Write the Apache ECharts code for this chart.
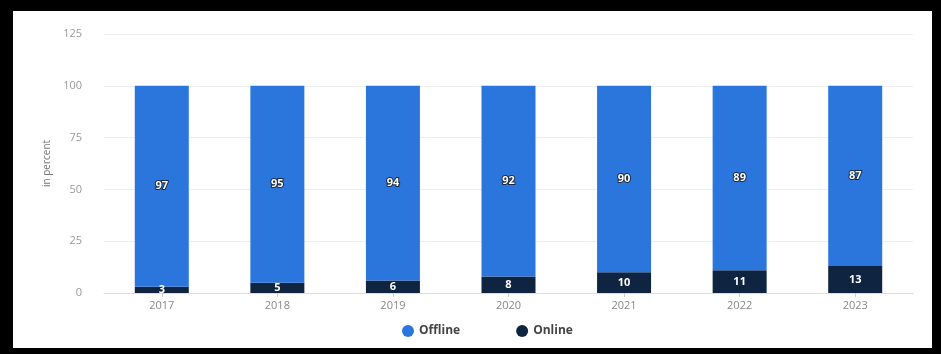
<!DOCTYPE html>
<html>
<head>
<meta charset="utf-8">
<script src="https://cdn.jsdelivr.net/npm/echarts@6/dist/echarts.min.js"></script>
<style>
html,body{margin:0;padding:0;background:#000;width:941px;height:354px;overflow:hidden;}
#frame{position:absolute;left:13px;top:11px;width:919px;height:337px;background:#fff;}
#chart{width:919px;height:337px;}
</style>
</head>
<body>
<div id="frame"><div id="chart"></div></div>
<script>
var categories = ['2017','2018','2019','2020','2021','2022','2023'];
var offline = [97, 95, 94, 92, 90, 89, 87];
var online = [3, 5, 6, 8, 10, 11, 13];
var yTicks = [0, 25, 50, 75, 100, 125];

var chart = echarts.init(document.getElementById('chart'));
chart.setOption({
  animation: false,
  grid: {left: 91, right: 19, top: 23, bottom: 55},
  legend: {
    bottom: 6, left: 384, itemWidth: 12, itemHeight: 12, itemGap: 56,
    icon: 'circle',
    textStyle: {fontFamily: 'Open Sans', fontWeight: 'bold', fontSize: 12, color: '#444'},
    data: ['Offline', 'Online']
  },
  xAxis: {
    type: 'category', data: categories,
    axisLine: {lineStyle: {color: '#ddd'}},
    axisTick: {show: true, alignWithLabel: true, length: 4, lineStyle: {color: '#ccc'}},
    axisLabel: {color: '#888', fontSize: 11, fontFamily: 'Open Sans', margin: 7}
  },
  yAxis: {
    type: 'value', min: yTicks[0], max: yTicks[yTicks.length-1], interval: 25,
    name: 'in percent', nameLocation: 'middle', nameGap: 43, nameRotate: 90,
    nameTextStyle: {color: '#777', fontSize: 10, fontFamily: 'Open Sans'},
    axisLine: {show: false}, axisTick: {show: false},
    axisLabel: {color: '#999', fontSize: 11, fontFamily: 'Open Sans', margin: 22},
    splitLine: {lineStyle: {color: '#eee'}}
  },
  series: [
    {
      name: 'Online', type: 'bar', stack: 's', data: online, barWidth: 54,
      itemStyle: {color: '#0e2440'},
      label: {show: true, position: 'inside', color: '#fff', fontWeight: 'bold', fontSize: 11, fontFamily: 'Open Sans'}
    },
    {
      name: 'Offline', type: 'bar', stack: 's', data: offline, barWidth: 54,
      itemStyle: {color: '#2a76dd'},
      label: {show: true, position: 'inside', color: '#fff', fontWeight: 'bold', fontSize: 11, fontFamily: 'Open Sans',
        textBorderColor: '#1a2a40', textBorderWidth: 2}
    }
  ]
});
</script>
</body>
</html>
